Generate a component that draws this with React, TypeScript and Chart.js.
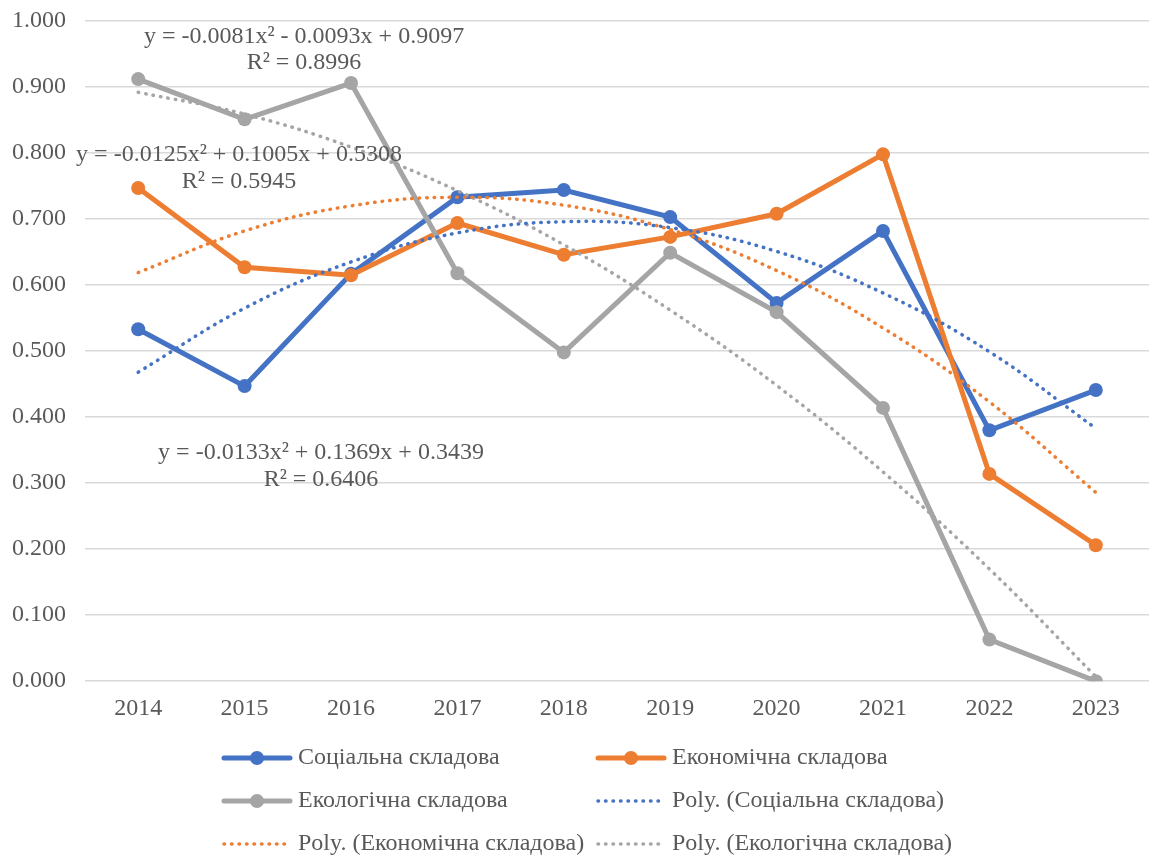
import React, { useEffect, useRef } from "react";
import { Chart, registerables } from "chart.js";

Chart.register(...registerables);

const years = ["2014", "2015", "2016", "2017", "2018", "2019", "2020", "2021", "2022", "2023"];
const social = [0.533, 0.447, 0.617, 0.733, 0.744, 0.703, 0.573, 0.682, 0.380, 0.441];
const economic = [0.747, 0.627, 0.615, 0.694, 0.646, 0.673, 0.708, 0.798, 0.314, 0.206];
const ecological = [0.912, 0.851, 0.906, 0.618, 0.498, 0.649, 0.559, 0.414, 0.063, 0.000];
const socialTrend = [0.468, 0.565, 0.635, 0.679, 0.696, 0.687, 0.651, 0.588, 0.499, 0.383];
const economicTrend = [0.619, 0.682, 0.720, 0.733, 0.721, 0.684, 0.622, 0.535, 0.423, 0.286];
const ecologicalTrend = [0.892, 0.859, 0.809, 0.743, 0.661, 0.562, 0.448, 0.317, 0.170, 0.007];

const seriesLabels = ["Соціальна складова", "Економічна складова", "Екологічна складова"];
const trendLabels = [
  "Poly. (Соціальна складова)",
  "Poly. (Економічна складова)",
  "Poly. (Екологічна складова)",
];
const equations = [
  ["y = -0.0081x² - 0.0093x + 0.9097", "R² = 0.8996"],
  ["y = -0.0125x² + 0.1005x + 0.5308", "R² = 0.5945"],
  ["y = -0.0133x² + 0.1369x + 0.3439", "R² = 0.6406"],
];

const BLUE = "#4472C4";
const ORANGE = "#ED7D31";
const GRAY = "#A5A5A5";
const TEXT = "#595959";
const FONT = "'Liberation Serif', 'Times New Roman', serif";
const FS = 24;
const DOT = [0.5, 7];

const overlayPlugin = {
  id: "overlay",
  afterDraw(chart: any) {
    const ctx = chart.ctx as CanvasRenderingContext2D;
    ctx.save();
    ctx.font = `${FS}px ${FONT}`;
    ctx.fillStyle = TEXT;
    ctx.textAlign = "center";
    ctx.textBaseline = "middle";
    const eqPos = [
      [304, 37, 63],
      [239, 155, 182],
      [321, 453, 480],
    ];
    equations.forEach((eq, i) => {
      const [x, y1, y2] = eqPos[i];
      ctx.fillText(eq[0], x, y1);
      ctx.fillText(eq[1], x, y2);
    });
    const cols = [222, 596];
    const rows = [758, 801, 844];
    ctx.textAlign = "left";
    chart.data.datasets.forEach((ds: any, k: number) => {
      const x0 = cols[k % 2];
      const y = rows[Math.floor(k / 2)];
      const trend = !!ds.borderDash && ds.borderDash.length > 0;
      ctx.strokeStyle = ds.borderColor;
      ctx.lineCap = "round";
      if (trend) {
        ctx.lineWidth = 3.5;
        ctx.setLineDash(DOT);
      } else {
        ctx.lineWidth = 5;
        ctx.setLineDash([]);
      }
      ctx.beginPath();
      ctx.moveTo(x0 + 2, y);
      ctx.lineTo(x0 + 68, y);
      ctx.stroke();
      ctx.setLineDash([]);
      if (!trend) {
        ctx.fillStyle = ds.borderColor;
        ctx.beginPath();
        ctx.arc(x0 + 35, y, 7, 0, Math.PI * 2);
        ctx.fill();
      }
      ctx.fillStyle = TEXT;
      ctx.fillText(ds.label, x0 + 76, y);
    });
    ctx.restore();
  },
};

export default function App() {
  const ref = useRef<HTMLCanvasElement>(null);
  useEffect(() => {
    document.body.style.margin = "0";
    const mk = (label: string, data: number[], color: string, order: number) => ({
      label,
      data,
      borderColor: color,
      backgroundColor: color,
      borderWidth: 5,
      pointRadius: 7,
      pointHoverRadius: 7,
      pointBackgroundColor: color,
      pointBorderColor: color,
      pointBorderWidth: 0,
      tension: 0,
      order,
    });
    const tr = (label: string, data: number[], color: string) => ({
      label,
      data,
      borderColor: color,
      backgroundColor: color,
      borderWidth: 3.5,
      borderDash: DOT,
      borderCapStyle: "round",
      pointRadius: 0,
      tension: 0.4,
      order: 0,
    });
    const zeroPad = (s: any) => {
      s.paddingTop = 0;
      s.paddingBottom = 0;
      s.paddingLeft = 0;
      s.paddingRight = 0;
    };
    const chart = new Chart(ref.current!, {
      type: "line",
      data: {
        labels: years,
        datasets: [
          mk(seriesLabels[0], social, BLUE, 3),
          mk(seriesLabels[1], economic, ORANGE, 2),
          mk(seriesLabels[2], ecological, GRAY, 1),
          tr(trendLabels[0], socialTrend, BLUE),
          tr(trendLabels[1], economicTrend, ORANGE),
          tr(trendLabels[2], ecologicalTrend, GRAY),
        ] as any,
      },
      options: {
        responsive: false,
        animation: false,
        layout: { autoPadding: false, padding: { top: 21, right: -4, left: 0, bottom: 129 } },
        plugins: { legend: { display: false }, tooltip: { enabled: false } },
        scales: {
          x: {
            offset: true,
            afterFit: zeroPad,
            grid: { display: false },
            border: { display: false },
            ticks: { color: TEXT, font: { family: FONT, size: FS }, padding: 5, maxRotation: 0 },
          },
          y: {
            min: 0,
            max: 1,
            afterFit: (s: any) => {
              s.width = 85;
              zeroPad(s);
            },
            grid: { color: "#D9D9D9", lineWidth: 1.5, drawTicks: false },
            border: { display: false },
            ticks: {
              stepSize: 0.1,
              color: TEXT,
              font: { family: FONT, size: FS },
              padding: 19,
              callback: (v: any) => Number(v).toFixed(3),
            },
          },
        },
      },
      plugins: [overlayPlugin],
    });
    return () => chart.destroy();
  }, []);
  return <canvas ref={ref} width={1149} height={857} style={{ display: "block" }} />;
}
